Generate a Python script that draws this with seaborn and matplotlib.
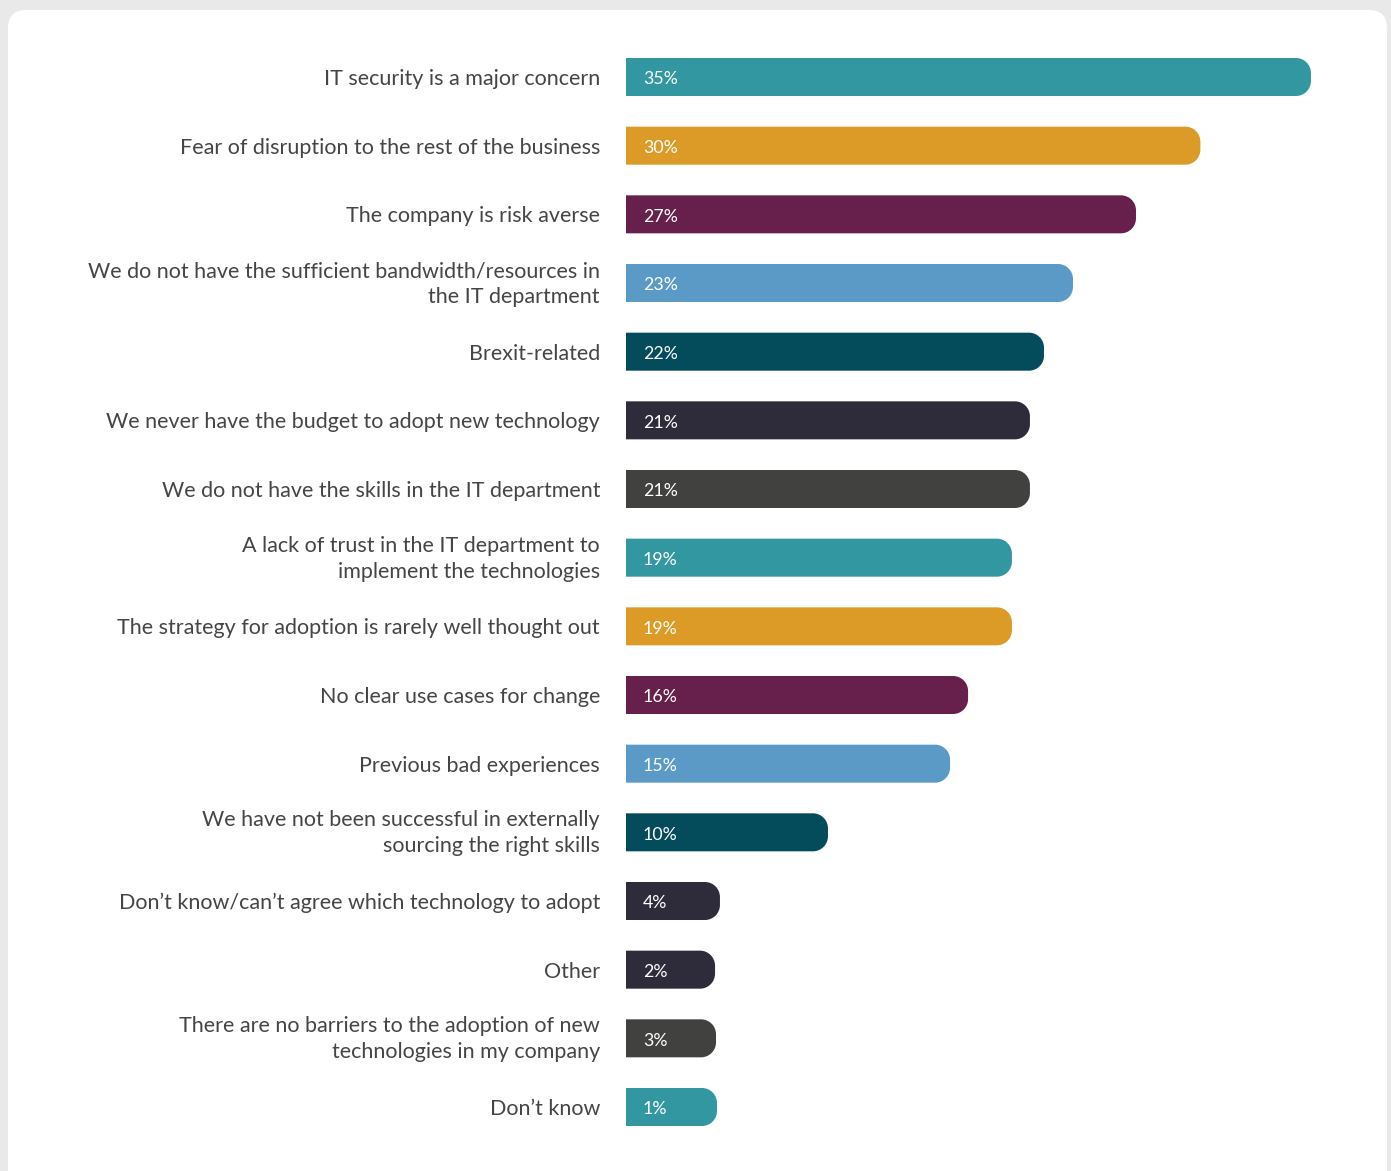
import numpy as np
import pandas as pd
import matplotlib
matplotlib.use("Agg")
import matplotlib.pyplot as plt
import seaborn as sns
from matplotlib.path import Path
from matplotlib.patches import PathPatch, FancyBboxPatch

categories = [
    "IT security is a major concern",
    "Fear of disruption to the rest of the business",
    "The company is risk averse",
    "We do not have the sufficient bandwidth/resources in\nthe IT department",
    "Brexit-related",
    "We never have the budget to adopt new technology",
    "We do not have the skills in the IT department",
    "A lack of trust in the IT department to\nimplement the technologies",
    "The strategy for adoption is rarely well thought out",
    "No clear use cases for change",
    "Previous bad experiences",
    "We have not been successful in externally\nsourcing the right skills",
    "Don\u2019t know/can\u2019t agree which technology to adopt",
    "Other",
    "There are no barriers to the adoption of new\ntechnologies in my company",
    "Don\u2019t know",
]
# printed percentages
values = [35, 30, 27, 23, 22, 21, 21, 19, 19, 16, 15, 10, 4, 2, 3, 1]
value_labels = [f"{v}%" for v in values]
# bar lengths as drawn in the picture (small bars have a minimum length)
bar_lengths = [35.0, 29.35, 26.06, 22.84, 21.36, 20.64, 20.64, 19.72, 19.72,
               17.48, 16.56, 10.32, 4.8, 4.55, 4.6, 4.65]
colors = ["#3297a0", "#dc9a26", "#66204b", "#5b9ac6", "#044b5c", "#2e2b3a",
          "#414140", "#3297a0", "#dc9a26", "#66204b", "#5b9ac6", "#044b5c",
          "#2e2b3a", "#2e2b3a", "#414140", "#3297a0"]

df = pd.DataFrame({"category": categories, "value": values, "shown": bar_lengths})

W, H = 1391, 1171
fig = plt.figure(figsize=(W / 100, H / 100), dpi=100)
fig.patch.set_facecolor("#e9e9e9")

# white card
card = FancyBboxPatch((8 / W, -0.05), (1387 - 8) / W, (H - 10) / H + 0.05,
                      boxstyle="round,pad=0,rounding_size=0.013",
                      transform=fig.transFigure, facecolor="white",
                      edgecolor="none", mutation_aspect=W / H, zorder=-5)
fig.patches.append(card)

px_per_unit = 19.57
ax_left = 626
ax_right = 1370
top_c, bot_c = 77, 1107
step = (bot_c - top_c) / 15
ax_top = top_c - step / 2
ax_bot = bot_c + step / 2
ax = fig.add_axes([ax_left / W, 1 - ax_bot / H, (ax_right - ax_left) / W, (ax_bot - ax_top) / H])
ax.set_facecolor("none")
ax.set_zorder(2)

sns.barplot(data=df, y="category", x="shown", hue="category", palette=colors,
            legend=False, orient="h", width=38 / step, ax=ax, saturation=1)
ax.set_xlim(0, (ax_right - ax_left) / px_per_unit)
ax.set_ylim(15.5, -0.5)

# replace rectangles by bars with rounded right ends
r_px = 15
rx = r_px / px_per_unit
ry = r_px / step
k = 0.5523
for p in list(ax.patches):
    x0, y0 = p.get_x(), p.get_y()
    w, h = p.get_width(), p.get_height()
    fc = p.get_facecolor()
    y1 = y0 + h
    verts = [(x0, y0), (w - rx, y0),
             (w - rx + k * rx, y0), (w, y0 + ry - k * ry), (w, y0 + ry),
             (w, y1 - ry),
             (w, y1 - ry + k * ry), (w - rx + k * rx, y1), (w - rx, y1),
             (x0, y1), (x0, y0)]
    codes = [Path.MOVETO, Path.LINETO,
             Path.CURVE4, Path.CURVE4, Path.CURVE4,
             Path.LINETO,
             Path.CURVE4, Path.CURVE4, Path.CURVE4,
             Path.LINETO, Path.CLOSEPOLY]
    ax.add_patch(PathPatch(Path(verts, codes), facecolor=fc, edgecolor="none"))
    p.remove()

fam = ["Lato", "DejaVu Sans"]
for i, lab in enumerate(value_labels):
    ax.text(17 / px_per_unit, i + 2.5 / step, lab, color="white", fontsize=12.8,
            va="center", ha="left", family=fam)

# category labels
for i, cat in enumerate(categories):
    dy = -4 if "\n" in cat else 0
    ax.text(-26 / px_per_unit, i + dy / step, cat, fontsize=15.5, color="#454545",
            family=fam, linespacing=1.38, ha="right", va="center_baseline",
            multialignment="right", clip_on=False)

ax.set_yticks([])
ax.set_xticks([])
ax.set_xlabel("")
ax.set_ylabel("")
for s in ax.spines.values():
    s.set_visible(False)

fig.savefig("out.png", dpi=100, facecolor=fig.get_facecolor())
